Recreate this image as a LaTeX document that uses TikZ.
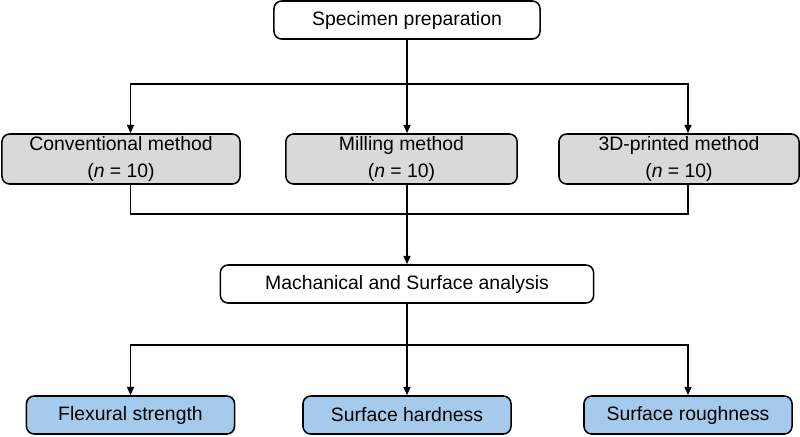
\documentclass[tikz,border=0pt]{standalone}
\usepackage{fontspec}
\setmainfont{Liberation Sans}
\usetikzlibrary{arrows.meta}

\definecolor{methodgray}{RGB}{217,217,217}
\definecolor{testblue}{RGB}{166,202,236}

\begin{document}
\begin{tikzpicture}[x=0.025cm,y=-0.025cm,
  box/.style={draw,line width=1.1pt,rounded corners=5.5pt,align=center,inner sep=0pt,
    font=\fontsize{13.8}{19.5}\selectfont},
  methodbox/.style={box,fill=methodgray,minimum height=1.25cm},
  testbox/.style={box,fill=testblue,minimum width=5.2cm,minimum height=0.95cm},
  link/.style={line width=1.1pt},
  arrow/.style={link,-{Triangle[length=6pt,width=5pt]}}]

 \useasboundingbox (0,0) rectangle (800,436);

 \node[box,minimum width=6.65cm,minimum height=0.95cm] (spec) at (407,20) {Specimen preparation};

 % the three methods
 \node[methodbox,minimum width=5.95cm] (conv) at (121,159) {Conventional method\\(\textit{n} = 10)};
 \node[methodbox,minimum width=5.78cm] (mill) at (401.5,159) {Milling method\\(\textit{n} = 10)};
 \node[methodbox,minimum width=6.0cm] (print) at (679,159) {3D-printed method\\(\textit{n} = 10)};

 \node[box,minimum width=9.33cm,minimum height=0.95cm] (anal) at (407,284) {Machanical and Surface analysis};

 % the three tests
 \node[testbox] (flex) at (130.5,415) {Flexural strength};
 \node[testbox] (hard) at (407,415) {Surface hardness};
 \node[testbox] (rough) at (688,415) {Surface roughness};

 \coordinate (split) at (407,84);
 \coordinate (merge) at (407,214);
 \coordinate (fork) at (407,345);

 % split to the methods
 \draw[link] (spec) -- (split);
 \draw[arrow] (split) -| (conv.north -| flex);
 \draw[arrow] (split) -- (mill.north -| hard);
 \draw[arrow] (split) -| (print.north -| rough);

 % join the methods
 \draw[link] (conv.south -| flex) |- (merge);
 \draw[link] (print.south -| rough) |- (merge);
 \draw[link] (mill.south -| hard) -- (merge);
 \draw[arrow] (merge) -- (anal);

 % fork to the tests
 \draw[link] (anal) -- (fork);
 \draw[arrow] (fork) -| (flex);
 \draw[arrow] (fork) -- (hard);
 \draw[arrow] (fork) -| (rough);

\end{tikzpicture}
\end{document}
